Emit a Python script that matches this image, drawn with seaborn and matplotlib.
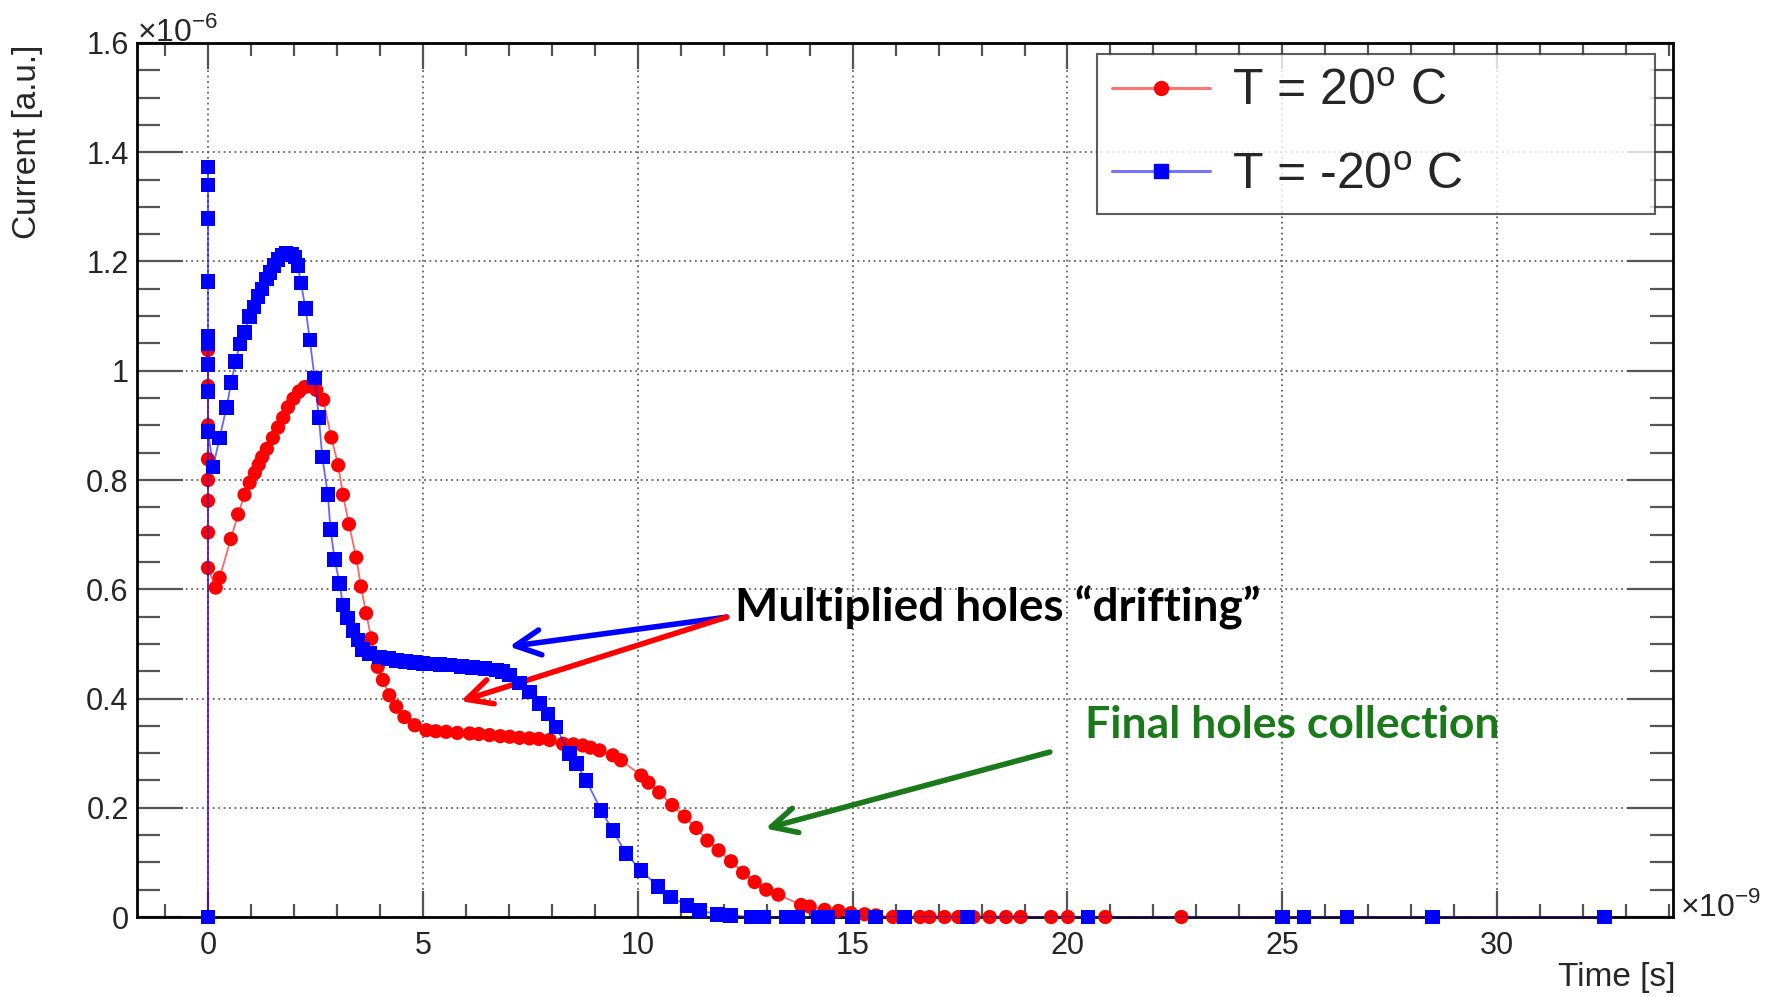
import numpy as np
import pandas as pd
import seaborn as sns
import matplotlib
matplotlib.use("Agg")
import matplotlib.pyplot as plt
from matplotlib.lines import Line2D
from matplotlib.ticker import MultipleLocator, FormatStrFormatter

# ---------------- data (time in 1e-9 s, current in 1e-6 a.u.) ----------------
t_warm = [0, 0, 0, 0, 0, 0, 0, 0, 0,
          0.18, 0.27, 0.53, 0.70, 0.85, 0.97, 1.09, 1.18, 1.26, 1.37, 1.51, 1.63, 1.75, 1.86, 1.99,
          2.12, 2.25, 2.37, 2.52, 2.68, 2.87, 3.03, 3.14, 3.28, 3.45, 3.56, 3.68, 3.80, 3.95, 4.07,
          4.22, 4.38, 4.57, 4.81, 5.08, 5.30, 5.54, 5.80, 6.09, 6.30, 6.55, 6.80, 7.02, 7.25, 7.48,
          7.70, 7.95, 8.26, 8.50, 8.72, 8.90, 9.11, 9.42, 9.61, 10.08, 10.25, 10.50, 10.80, 11.09,
          11.36, 11.62, 11.88, 12.17, 12.45, 12.72, 12.99, 13.27, 13.80, 14.00, 14.35, 14.67, 14.96,
          15.28, 15.54, 15.94, 16.57, 16.79, 17.14, 17.46, 17.81, 18.19, 18.57, 18.91, 19.62, 20.01,
          20.88, 22.65, 32.5]
i_warm = [0, 1.038, 0.972, 0.900, 0.838, 0.800, 0.762, 0.704, 0.639,
          0.603, 0.621, 0.692, 0.737, 0.773, 0.795, 0.813, 0.828, 0.842, 0.857, 0.877, 0.896, 0.914,
          0.933, 0.949, 0.962, 0.970, 0.972, 0.965, 0.947, 0.878, 0.827, 0.773, 0.719, 0.658, 0.605,
          0.556, 0.510, 0.458, 0.434, 0.406, 0.385, 0.366, 0.351, 0.342, 0.340, 0.339, 0.337, 0.336,
          0.335, 0.333, 0.331, 0.330, 0.328, 0.327, 0.326, 0.324, 0.317, 0.316, 0.314, 0.310, 0.305,
          0.296, 0.287, 0.259, 0.246, 0.228, 0.205, 0.184, 0.163, 0.140, 0.122, 0.102, 0.081, 0.064,
          0.050, 0.041, 0.022, 0.019, 0.013, 0.011, 0.007, 0.005, 0.003, 0, 0, 0, 0, 0, 0, 0, 0, 0,
          0, 0, 0, 0, 0]

t_cold = [0, 0, 0, 0, 0, 0, 0, 0, 0, 0,
          0.12, 0.27, 0.43, 0.54, 0.64, 0.74, 0.85, 0.97, 1.07, 1.16, 1.26, 1.36, 1.44, 1.54, 1.63,
          1.73, 1.82, 1.94, 2.02, 2.09, 2.16, 2.27, 2.37, 2.48, 2.58, 2.66, 2.79, 2.85, 2.95, 3.06,
          3.14, 3.25, 3.37, 3.49, 3.60, 3.76, 3.99, 4.20, 4.38, 4.60, 4.80, 5.00, 5.20, 5.40, 5.62,
          5.90, 6.16, 6.45, 6.71, 6.85, 7.02, 7.25, 7.48, 7.72, 7.91, 8.10, 8.41, 8.57, 8.80, 9.15,
          9.42, 9.73, 10.08, 10.47, 10.76, 11.15, 11.44, 11.85, 12.16, 12.65, 12.92, 13.45, 13.72,
          14.21, 14.43, 15.00, 15.53, 16.21, 17.67, 20.48, 25.0, 25.5, 26.5, 28.5, 32.5]
i_cold = [0, 1.373, 1.340, 1.279, 1.163, 1.063, 1.049, 1.011, 0.962, 0.889,
          0.824, 0.877, 0.933, 0.978, 1.017, 1.049, 1.070, 1.099, 1.117, 1.136, 1.150, 1.168, 1.180,
          1.193, 1.204, 1.212, 1.215, 1.213, 1.208, 1.193, 1.161, 1.114, 1.056, 0.987, 0.914, 0.842,
          0.773, 0.709, 0.654, 0.611, 0.571, 0.547, 0.525, 0.507, 0.490, 0.482, 0.476, 0.473, 0.470,
          0.468, 0.466, 0.464, 0.463, 0.462, 0.461, 0.459, 0.457, 0.455, 0.452, 0.449, 0.443, 0.428,
          0.412, 0.391, 0.372, 0.348, 0.299, 0.281, 0.250, 0.195, 0.158, 0.116, 0.085, 0.056, 0.037,
          0.021, 0.012, 0.005, 0.003, 0, 0, 0, 0, 0, 0, 0, 0, 0, 0, 0, 0, 0, 0, 0, 0]

labels = ["T = 20$^{\\rm o}$ C", "T = -20$^{\\rm o}$ C"]
x_ticks = [0, 5, 10, 15, 20, 25, 30]
y_ticks = [0, 0.2, 0.4, 0.6, 0.8, 1.0, 1.2, 1.4, 1.6]

# ---------------- style ----------------
sns.set_style("white")
plt.rcParams["font.family"] = ["Liberation Sans", "DejaVu Sans"]
plt.rcParams["mathtext.fontset"] = "custom"
plt.rcParams["mathtext.rm"] = "Liberation Sans"

W, H = 1777, 997
fig = plt.figure(figsize=(W / 100, H / 100), dpi=100)
L, R, T, B = 137, 1673, 43, 917
ax = fig.add_axes([L / W, 1 - B / H, (R - L) / W, (B - T) / H])

red = "#ff0000"
blue = "#0000ff"

df_w = pd.DataFrame({"t": t_warm, "i": i_warm})
df_c = pd.DataFrame({"t": t_cold, "i": i_cold})

sns.lineplot(data=df_w, x="t", y="i", sort=False, estimator=None, color=red, alpha=0.6,
             lw=1.3, ax=ax, zorder=3)
sns.scatterplot(data=df_w, x="t", y="i", marker="o", s=105, color=red, edgecolor="none",
                linewidth=0, ax=ax, zorder=4, clip_on=False)
sns.lineplot(data=df_c, x="t", y="i", sort=False, estimator=None, color=blue, alpha=0.6,
             lw=1.3, ax=ax, zorder=5)
sns.scatterplot(data=df_c, x="t", y="i", marker="s", s=110, color=blue, edgecolor="none",
                linewidth=0, ax=ax, zorder=6, clip_on=False)

ax.set_xlim(-1.652, 34.09)
ax.set_ylim(0, 1.6)
ax.set_xlabel("")
ax.set_ylabel("")
ax.set_xticks(x_ticks)
ax.set_yticks(y_ticks)
ax.yaxis.set_major_formatter(FormatStrFormatter("%g"))
ax.xaxis.set_minor_locator(MultipleLocator(1))
ax.yaxis.set_minor_locator(MultipleLocator(0.05))

for s in ax.spines.values():
    s.set_linewidth(2.0)
    s.set_color("black")

tc = "#555555"
ax.tick_params(axis="x", which="major", direction="in", length=19, width=1.6, color=tc,
               top=True, bottom=True, labelsize=22, pad=10)
ax.tick_params(axis="x", which="minor", direction="in", length=9.5, width=1.6, color=tc,
               top=True, bottom=True)
ax.tick_params(axis="y", which="major", direction="in", length=33, width=1.6, color=tc,
               left=True, right=True, labelsize=22, pad=6)
ax.tick_params(axis="y", which="minor", direction="in", length=16.5, width=1.6, color=tc,
               left=True, right=True)

ax.grid(True, which="major", linestyle=(0, (1, 2)), color="#666666", lw=1.3, zorder=0)
ax.set_axisbelow(True)

# exponent texts and axis titles
fig.text(L / W, 1 - 41 / H, "\u00d710$^{-6}$", ha="left", va="baseline", fontsize=23)
fig.text(1680 / W, 1 - 916 / H, "\u00d710$^{-9}$", ha="left", va="baseline", fontsize=23)
fig.text(28 / W, 1 - 45 / H, "Current [a.u.]", rotation=90, ha="center", va="top", fontsize=24)
fig.text(1675 / W, 1 - 977 / H, "Time [s]", ha="right", va="center", fontsize=24)

# legend
handles = [
    Line2D([0], [0], color=(1, 0.45, 0.45), lw=2.2, marker="o", markersize=10,
           markerfacecolor=red, markeredgecolor=red),
    Line2D([0], [0], color=(0.45, 0.45, 1), lw=2.2, marker="s", markersize=10,
           markerfacecolor=blue, markeredgecolor=blue),
]
leg = ax.legend(handles, labels, loc="upper left", bbox_to_anchor=(0.625, 0.812, 0.363, 0.175),
                mode="expand", fontsize=36, frameon=True, fancybox=False, handlelength=1.95,
                handletextpad=0.45, labelspacing=0.75, borderpad=0.3, borderaxespad=0)
leg.get_frame().set_edgecolor("#333333")
leg.get_frame().set_linewidth(1.5)
leg.set_zorder(10)

# annotations
afont = dict(family=["Lato", "DejaVu Sans"], weight="bold")
ax.text(12.26, 0.566, "Multiplied holes \u201cdrifting\u201d", fontsize=33, color="black",
        ha="left", va="center", **afont)
ax.text(20.41, 0.352, "Final holes collection", fontsize=32, color="#1a7a1a",
        ha="left", va="center", **afont)

ap = dict(arrowstyle="->", lw=4, mutation_scale=45, shrinkA=0, shrinkB=0)
ax.annotate("", xy=(7.01, 0.495), xytext=(12.07, 0.549), arrowprops=dict(color=blue, **ap))
ax.annotate("", xy=(5.88, 0.395), xytext=(12.07, 0.549), arrowprops=dict(color=red, **ap))
ax.annotate("", xy=(12.97, 0.162), xytext=(19.59, 0.302),
            arrowprops=dict(color="#1a7a1a", **ap))

fig.savefig("out.png", dpi=100, facecolor="white")
